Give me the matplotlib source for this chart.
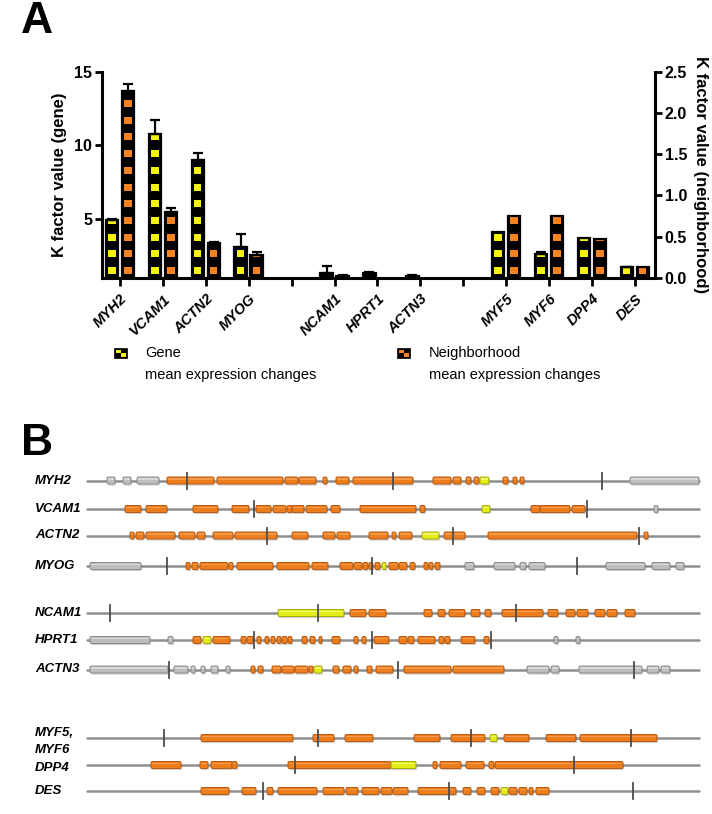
import matplotlib
matplotlib.use('Agg')
import matplotlib.pyplot as plt
from matplotlib.patches import Rectangle, FancyBboxPatch

plt.rcParams['font.family'] = ['Liberation Sans', 'DejaVu Sans']

# ---- panel A data ----
slots = ['MYH2', 'VCAM1', 'ACTN2', 'MYOG', '', 'NCAM1', 'HPRT1', 'ACTN3', '',
         'MYF5', 'MYF6', 'DPP4', 'DES']
left_genes = ['MYH2', 'VCAM1', 'ACTN2', 'MYOG', 'NCAM1', 'HPRT1', 'ACTN3']
left_gene_k = [4.95, 10.8, 9.0, 3.1, 1.35, 1.3, 1.12]
left_gene_err = [0.05, 0.95, 0.5, 0.9, 0.45, 0.08, 0.03]
left_nb_k = [13.7, 5.45, 3.35, 2.55, 1.12, 0.9, 0.9]
left_nb_err = [0.5, 0.3, 0.08, 0.22, 0.03, 0.0, 0.0]
right_genes = ['MYF5', 'MYF6', 'DPP4', 'DES']
right_gene_k = [0.55, 0.285, 0.48, 0.125]
right_gene_err = [0.0, 0.025, 0.0, 0.01]
right_nb_k = [0.755, 0.755, 0.47, 0.135]
right_nb_err = [0.0, 0.0, 0.0, 0.0]

# ---- panel B data (positions along the drawn gene line) ----
MYH2_exons = [(107, 115, 'g'), (123, 131, 'g'), (137, 159, 'g'), (167, 214, 'o'), (217, 283, 'o'),
              (285, 298, 'o'), (299, 316, 'o'), (323, 327, 'o'), (336, 349, 'o'), (353, 413, 'o'),
              (433, 451, 'o'), (453, 461, 'o'), (466, 471, 'o'), (474, 479, 'o'), (480, 489, 'y'),
              (503, 508, 'o'), (513, 517, 'o'), (520, 524, 'o'), (630, 699, 'g')]
MYH2_ticks = [187, 393, 602]
VCAM1_exons = [(125, 141, 'o'), (146, 167, 'o'), (193, 218, 'o'), (232, 249, 'o'), (256, 271, 'o'),
               (273, 286, 'o'), (287, 292, 'o'), (292, 304, 'o'), (306, 327, 'o'), (331, 340, 'o'),
               (360, 416, 'o'), (420, 425, 'o'), (482, 490, 'y'), (531, 540, 'o'), (540, 570, 'o'),
               (572, 585, 'o'), (654, 658, 'g')]
VCAM1_ticks = [254, 587]
ACTN2_exons = [(130, 134, 'o'), (136, 144, 'o'), (146, 175, 'o'), (179, 195, 'o'), (197, 205, 'o'),
               (213, 233, 'o'), (235, 277, 'o'), (292, 308, 'o'), (323, 335, 'o'), (337, 350, 'o'),
               (369, 388, 'o'), (392, 396, 'o'), (399, 412, 'o'), (422, 439, 'y'), (444, 465, 'o'),
               (488, 637, 'o'), (644, 648, 'o')]
ACTN2_ticks = [267, 453, 639]
MYOG_exons = [(90, 141, 'g'), (186, 190, 'o'), (192, 198, 'o'), (200, 228, 'o'), (229, 233, 'o'),
              (237, 273, 'o'), (277, 309, 'o'), (312, 328, 'o'), (340, 353, 'o'), (354, 362, 'o'),
              (363, 368, 'o'), (369, 373, 'o'), (375, 380, 'o'), (382, 386, 'y'), (389, 398, 'o'),
              (399, 407, 'o'), (410, 415, 'o'), (424, 428, 'o'), (429, 433, 'o'), (435, 440, 'o'),
              (465, 474, 'g'), (494, 515, 'g'), (520, 526, 'g'), (529, 545, 'g'), (606, 645, 'g'),
              (652, 670, 'g'), (676, 684, 'g')]
MYOG_ticks = [167, 372, 577]
NCAM1_exons = [(278, 344, 'y'), (350, 366, 'o'), (369, 386, 'o'), (424, 432, 'o'), (438, 445, 'o'),
               (449, 465, 'o'), (471, 480, 'o'), (485, 491, 'o'), (502, 543, 'o'), (548, 558, 'o'),
               (566, 575, 'o'), (577, 588, 'o'), (595, 605, 'o'), (607, 617, 'o'), (625, 635, 'o')]
NCAM1_ticks = [110, 318, 516]
HPRT1_exons = [(90, 150, 'g'), (168, 173, 'g'), (193, 201, 'o'), (203, 211, 'y'), (213, 230, 'o'),
               (241, 246, 'o'), (247, 253, 'o'), (257, 261, 'o'), (265, 269, 'o'), (271, 275, 'o'),
               (277, 281, 'o'), (282, 287, 'o'), (288, 292, 'o'), (302, 307, 'o'), (310, 315, 'o'),
               (319, 322, 'o'), (332, 340, 'o'), (354, 358, 'o'), (362, 366, 'o'), (374, 389, 'o'),
               (399, 407, 'o'), (408, 414, 'o'), (418, 435, 'o'), (439, 444, 'o'), (445, 450, 'o'),
               (461, 475, 'o'), (484, 489, 'o'), (554, 558, 'g'), (576, 580, 'g')]
HPRT1_ticks = [254, 372, 491]
ACTN3_exons = [(90, 168, 'g'), (174, 188, 'g'), (191, 195, 'g'), (201, 205, 'g'), (211, 218, 'g'),
               (226, 230, 'g'), (251, 255, 'o'), (258, 263, 'o'), (272, 281, 'o'), (282, 294, 'o'),
               (295, 308, 'o'), (309, 313, 'o'), (314, 322, 'y'), (333, 339, 'o'), (343, 351, 'o'),
               (354, 358, 'o'), (367, 372, 'o'), (376, 393, 'o'), (404, 451, 'o'), (453, 504, 'o'),
               (527, 549, 'g'), (551, 559, 'g'), (579, 642, 'g'), (647, 659, 'g'), (661, 670, 'g')]
ACTN3_ticks = [169, 398, 634]
MYF5_exons = [(201, 293, 'o'), (313, 334, 'o'), (345, 373, 'o'), (414, 440, 'o'), (451, 485, 'o'),
              (490, 497, 'y'), (504, 529, 'o'), (546, 576, 'o'), (580, 657, 'o')]
MYF5_ticks = [164, 318, 471, 631]
DPP4_exons = [(151, 181, 'o'), (200, 208, 'o'), (211, 232, 'o'), (232, 237, 'o'), (288, 391, 'o'),
              (391, 416, 'y'), (433, 437, 'o'), (440, 461, 'o'), (466, 484, 'o'), (489, 494, 'o'),
              (495, 623, 'o')]
DPP4_ticks = [295, 574]
DES_exons = [(201, 229, 'o'), (242, 256, 'o'), (267, 273, 'o'), (278, 317, 'o'), (323, 344, 'o'),
             (346, 358, 'o'), (362, 379, 'o'), (381, 392, 'o'), (393, 408, 'o'), (418, 456, 'o'),
             (463, 471, 'o'), (477, 485, 'o'), (491, 499, 'o'), (501, 508, 'y'), (509, 517, 'o'),
             (519, 527, 'o'), (529, 533, 'o'), (536, 549, 'o')]
DES_ticks = [263, 449, 633]

track_labels = ['MYH2', 'VCAM1', 'ACTN2', 'MYOG', 'NCAM1', 'HPRT1', 'ACTN3',
                'MYF5,\nMYF6', 'DPP4', 'DES']
tracks = [MYH2_exons, VCAM1_exons, ACTN2_exons, MYOG_exons, NCAM1_exons, HPRT1_exons,
          ACTN3_exons, MYF5_exons, DPP4_exons, DES_exons]
track_ticks = [MYH2_ticks, VCAM1_ticks, ACTN2_ticks, MYOG_ticks, NCAM1_ticks, HPRT1_ticks,
               ACTN3_ticks, MYF5_ticks, DPP4_ticks, DES_ticks]
line_start, line_end = 87, 699

# layout
row_y = [480.5, 509, 535.5, 566, 613, 640, 669.5, 738, 765, 791]
label_dy = [0, 0, 0, 0, 0, 0, 0, 3.5, 3, 0]
YELLOW = '#f2f20c'
ORANGE = '#f5821f'
exon_style = {
    'o': ('#ee7d1e', '#b65811', '#f9a95e'),
    'y': ('#e3ec16', '#a6ab10', '#f7fa95'),
    'g': ('#bebebe', '#8a8a8a', '#e4e4e4'),
}

W, H = 712, 814
fig = plt.figure(figsize=(W / 100, H / 100), dpi=100)

# background axes in pixel units for panel B and the legend
axb = fig.add_axes([0, 0, 1, 1])
axb.set_xlim(0, W)
axb.set_ylim(H, 0)
axb.axis('off')

# ---- panel A ----
ax_px = (102, 655, 72, 277.7)   # left, right, top, bottom in pixels
ax = fig.add_axes([ax_px[0] / W, 1 - ax_px[3] / H, (ax_px[1] - ax_px[0]) / W,
                   (ax_px[3] - ax_px[2]) / H])
ax.patch.set_alpha(0)
ax2 = ax.twinx()
ax.set_xlim(-0.42, 12.47)
ax.set_ylim(1, 15)
ax2.set_ylim(0, 2.5)
axes_h_px = ax_px[3] - ax_px[2]
slot_px = 42.9
bw = 12.6 / slot_px
off = 8.0 / slot_px
sq_w = 7.3 / slot_px


def checker_bars(a, xs, vals, errs, color):
    lo, hi = a.get_ylim()
    upp = (hi - lo) / axes_h_px
    for x, v, e in zip(xs, vals, errs):
        if v <= lo:
            continue
        bar = a.bar(x, v - lo, bottom=lo, width=bw, color='black', edgecolor='none', zorder=2)[0]
        k = 0
        while True:
            y0 = lo + (3.7 + 16.7 * k) * upp
            if y0 >= v:
                break
            r = Rectangle((x - sq_w / 2, y0), sq_w, 7.0 * upp, facecolor=color,
                          edgecolor='none', zorder=3)
            a.add_patch(r)
            r.set_clip_path(bar)
            k += 1
        a.bar(x, v - lo, bottom=lo, width=bw, fill=False, edgecolor='black', lw=1.6, zorder=4)
        if e > 0:
            a.errorbar(x, v, yerr=[[0], [e]], fmt='none', ecolor='black', elinewidth=1.6,
                       capsize=3.3, capthick=1.6, zorder=5)


left_x = [slots.index(g) for g in left_genes]
right_x = [slots.index(g) for g in right_genes]
checker_bars(ax, [x - off for x in left_x], left_gene_k, left_gene_err, YELLOW)
checker_bars(ax, [x + off for x in left_x], left_nb_k, left_nb_err, ORANGE)
checker_bars(ax2, [x - off for x in right_x], right_gene_k, right_gene_err, YELLOW)
checker_bars(ax2, [x + off for x in right_x], right_nb_k, right_nb_err, ORANGE)

for a in (ax, ax2):
    for s in a.spines.values():
        s.set_linewidth(2.2)
    a.spines['top'].set_visible(False)
ax.spines['right'].set_visible(False)
ax2.spines['left'].set_visible(False)
ax2.spines['bottom'].set_visible(False)

ax.set_yticks([5, 10, 15])
ax2.set_yticks([0, 0.5, 1.0, 1.5, 2.0, 2.5])
ax2.set_yticklabels(['%.1f' % t for t in [0, 0.5, 1.0, 1.5, 2.0, 2.5]])
ax.tick_params(axis='y', length=5, width=2, labelsize=11.5, pad=2)
ax2.tick_params(axis='y', length=5, width=2, labelsize=11.5, pad=2)
for lab in ax.get_yticklabels() + ax2.get_yticklabels():
    lab.set_fontweight('bold')

ax.set_xticks(range(len(slots)))
ax.set_xticklabels(slots, rotation=45, ha='right', rotation_mode='anchor',
                   fontsize=10.5, fontweight='bold', fontstyle='italic')
ax.tick_params(axis='x', length=6, width=2, pad=4)

ax.set_ylabel('K factor value (gene)', fontsize=12, fontweight='bold', labelpad=5)
ax2.set_ylabel('K factor value (neighborhood)', fontsize=12, fontweight='bold',
               rotation=270, va='bottom', labelpad=4)


# legend
def legend_icon(x, y, color):
    axb.add_patch(Rectangle((x, y), 13, 10, facecolor='black', edgecolor='black', lw=0.5))
    axb.add_patch(Rectangle((x + 1.5, y + 1.5), 5, 3.5, facecolor=color, edgecolor='none'))
    axb.add_patch(Rectangle((x + 6.5, y + 5), 5, 3.5, facecolor=color, edgecolor='none'))


legend_icon(114, 348, YELLOW)
legend_icon(397, 348, ORANGE)
for x, name in [(145, 'Gene'), (429, 'Neighborhood')]:
    axb.text(x, 353, name, fontsize=10.5, va='center', ha='left')
    axb.text(x, 375, 'mean expression changes', fontsize=10.5, va='center', ha='left')

# panel letters
axb.text(21, 33, 'A', fontsize=32, fontweight='bold', va='baseline')
axb.text(21, 455, 'B', fontsize=32, fontweight='bold', va='baseline')

# ---- panel B ----
EXON_H = 7.0
for label, exons, ticks, y, dy in zip(track_labels, tracks, track_ticks, row_y, label_dy):
    axb.plot([line_start, line_end], [y, y], color='#8e8e8e', lw=1.8, solid_capstyle='round',
             zorder=1)
    for s, e, kind in exons:
        face, edge, hl = exon_style[kind]
        sh = FancyBboxPatch((s + 1.0, y - EXON_H / 2 + 1.6), e - s, EXON_H,
                            boxstyle='round,pad=0,rounding_size=1.5',
                            facecolor='#7a7a7a', edgecolor='none', alpha=0.35, zorder=2)
        axb.add_patch(sh)
        p = FancyBboxPatch((s, y - EXON_H / 2), e - s, EXON_H,
                           boxstyle='round,pad=0,rounding_size=1.5',
                           facecolor=face, edgecolor=edge, lw=0.7, zorder=3)
        axb.add_patch(p)
        axb.add_patch(Rectangle((s + 0.8, y - EXON_H / 2 + 1.0), max(e - s - 1.6, 0.5), 1.6,
                                facecolor=hl, edgecolor='none', alpha=0.7, zorder=4))
    for t in ticks:
        axb.plot([t, t], [y - 8, y + 8], color='#4d4d4d', lw=1.3, zorder=5)
    axb.text(35, y + dy, label, fontsize=9.5, fontweight='bold', fontstyle='italic',
             va='center', ha='left', linespacing=1.45)

fig.savefig('out.png', dpi=100)
